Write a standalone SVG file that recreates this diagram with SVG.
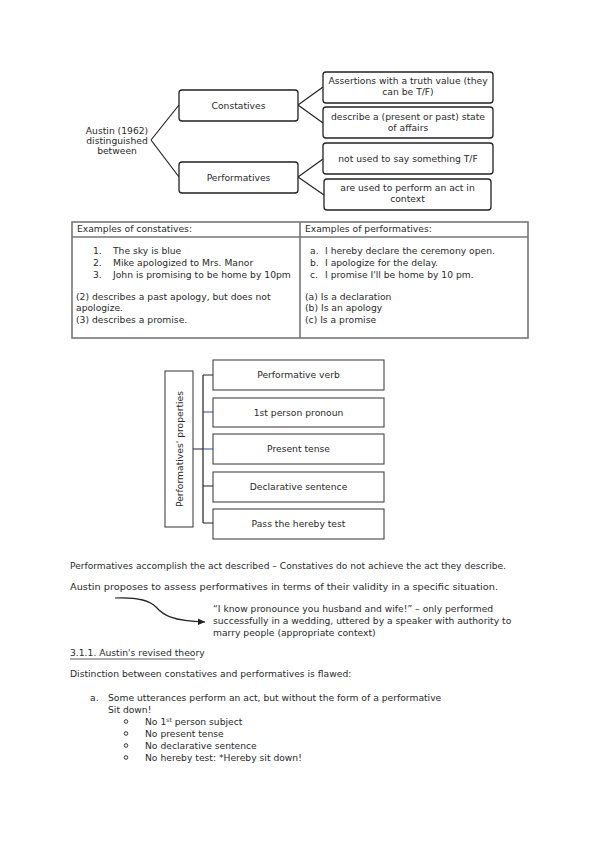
<svg xmlns="http://www.w3.org/2000/svg" width="599" height="848" viewBox="0 0 599 848">
<style>
text{font-family:"DejaVu Sans","Liberation Sans",Arial,sans-serif;font-size:9.2px;fill:#2a2a2a}
.c{text-anchor:middle}
.rb{fill:#fff;stroke:#222;stroke-width:1.3}
.pb{fill:#fff;stroke:#444;stroke-width:1.1}
.ln{fill:none;stroke:#222;stroke-width:1.2}
.tb{fill:none;stroke:#777;stroke-width:1.6}
</style>
<defs>
<marker id="ah" markerWidth="8" markerHeight="8" refX="7" refY="4" orient="auto" markerUnits="userSpaceOnUse">
<path d="M0,0.8 L7,4 L0,7.2 Z" fill="#222"/>
</marker>
</defs>
<rect width="599" height="848" fill="#fff"/>

<g id="connectors">
<path class="ln" d="M151,140 L179,105 M151,140 L179,177"/>
<path class="ln" d="M298,105 L323,87 M298,105 L323,123 M298,177 L323,159 M298,177 L324,195"/>
<path class="ln" d="M193,449 H203 M203,375 V523 M203,375 H213 M203,486 H213 M203,523 H213"/>
<path d="M203,412 H213 M203,449 H213" fill="none" stroke="#2b4aa0" stroke-width="1"/>
<path class="ln" d="M115,598 C140,597 150,601 156,607 C163,615 172,621 205,622" marker-end="url(#ah)" stroke-width="1"/>
</g>

<g id="austin">
<text class="c" x="117" y="133.5">Austin (1962)</text>
<text class="c" x="117" y="143.5">distinguished</text>
<text class="c" x="117" y="153.5">between</text>
</g>
<g id="constatives"><rect class="rb" x="179" y="90" width="119" height="31" rx="3"/><text class="c" x="238.5" y="108.5">Constatives</text></g>
<g id="performatives"><rect class="rb" x="179" y="162" width="119" height="31" rx="3"/><text class="c" x="238.5" y="180.5">Performatives</text></g>
<g id="c1"><rect class="rb" x="323" y="72" width="170" height="31" rx="3"/><text class="c" x="408" y="84">Assertions with a truth value (they</text><text class="c" x="408" y="95">can be T/F)</text></g>
<g id="c2"><rect class="rb" x="323" y="107" width="170" height="31" rx="3"/><text class="c" x="408" y="120">describe a (present or past) state</text><text class="c" x="408" y="131">of affairs</text></g>
<g id="p1"><rect class="rb" x="323" y="143" width="170" height="31" rx="3"/><text class="c" x="408" y="161.5">not used to say something T/F</text></g>
<g id="p2"><rect class="rb" x="324" y="179" width="167" height="31" rx="3"/><text class="c" x="407.5" y="191">are used to perform an act in</text><text class="c" x="407.5" y="202">context</text></g>

<g id="table">
<rect class="tb" x="72" y="222" width="456" height="116"/>
<path class="tb" d="M72,237 H528 M300,222 V338"/>
<text x="77" y="231.5">Examples of constatives:</text>
<text x="305" y="231.5">Examples of performatives:</text>
<text x="93" y="254">1.</text><text x="113" y="254">The sky is blue</text>
<text x="93" y="266">2.</text><text x="113" y="266">Mike apologized to Mrs. Manor</text>
<text x="93" y="278">3.</text><text x="113" y="278">John is promising to be home by 10pm</text>
<text x="76" y="300">(2) describes a past apology, but does not</text>
<text x="76" y="311">apologize.</text>
<text x="76" y="323">(3) describes a promise.</text>
<text x="310" y="254">a.</text><text x="325" y="254">I hereby declare the ceremony open.</text>
<text x="310" y="266">b.</text><text x="325" y="266">I apologize for the delay.</text>
<text x="310" y="278">c.</text><text x="325" y="278">I promise I'll be home by 10 pm.</text>
<text x="305" y="300">(a) Is a declaration</text>
<text x="305" y="311">(b) Is an apology</text>
<text x="305" y="323">(c) Is a promise</text>
</g>

<g id="props"><rect class="pb" x="165" y="371" width="28" height="156" stroke="#666"/><text class="c" transform="translate(182.5,449) rotate(-90)">Performatives' properties</text></g>
<g id="pv"><rect class="pb" x="213" y="360" width="171" height="30"/><text class="c" x="298.5" y="378">Performative verb</text></g>
<g id="fp"><rect class="pb" x="213" y="398" width="171" height="29"/><text class="c" x="298.5" y="415.5">1st person pronoun</text></g>
<g id="pt"><rect class="pb" x="213" y="434" width="171" height="30"/><text class="c" x="298.5" y="452">Present tense</text></g>
<g id="ds"><rect class="pb" x="213" y="472" width="171" height="30"/><text class="c" x="298.5" y="490">Declarative sentence</text></g>
<g id="ht"><rect class="pb" x="213" y="509" width="171" height="30"/><text class="c" x="298.5" y="527">Pass the hereby test</text></g>

<g id="body">
<text x="70" y="569" textLength="436" lengthAdjust="spacingAndGlyphs">Performatives accomplish the act described – Constatives do not achieve the act they describe.</text>
<text x="70" y="590" textLength="428" lengthAdjust="spacingAndGlyphs">Austin proposes to assess performatives in terms of their validity in a specific situation.</text>
<text x="213" y="612">“I know pronounce you husband and wife!” – only performed</text>
<text x="213" y="624">successfully in a wedding, uttered by a speaker with authority to</text>
<text x="213" y="636">marry people (appropriate context)</text>
<text x="70" y="656">3.1.1. Austin's revised theory</text>
<path d="M70,659 H195" stroke="#333" stroke-width="0.8"/>
<text x="70" y="677">Distinction between constatives and performatives is flawed:</text>
<text x="90" y="701">a.</text><text x="108" y="701">Some utterances perform an act, but without the form of a performative</text>
<text x="108" y="713">Sit down!</text>
<g fill="none" stroke="#333" stroke-width="1"><circle cx="126" cy="721.5" r="1.8"/><circle cx="126" cy="733.5" r="1.8"/><circle cx="126" cy="745.5" r="1.8"/><circle cx="126" cy="757.5" r="1.8"/></g>
<text x="145" y="725">No 1<tspan font-size="6" dy="-3">st</tspan><tspan dy="3"> person subject</tspan></text>
<text x="145" y="737">No present tense</text>
<text x="145" y="749">No declarative sentence</text>
<text x="145" y="761">No hereby test: *Hereby sit down!</text>
</g>
</svg>
